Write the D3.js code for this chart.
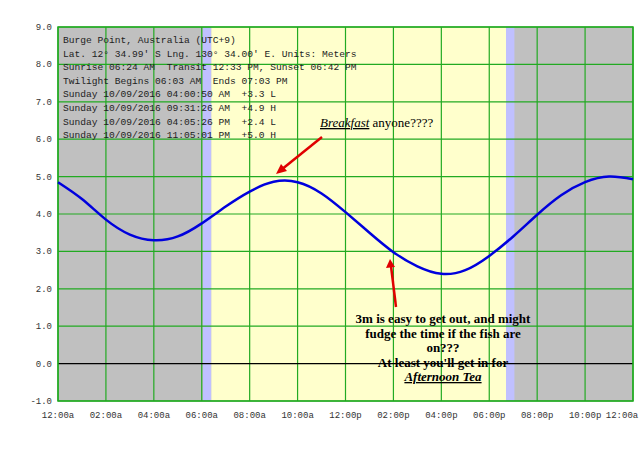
<!DOCTYPE html>
<html><head><meta charset="utf-8">
<script src="https://cdn.jsdelivr.net/npm/d3@7"></script>
<style>body{margin:0;background:#fff}</style>
</head><body><div id="chart"></div>
<script>
// tide heights (m), hours since midnight
const hours = [0,1,2,3,4,5,6,7,8,9,10,11,12,13,14,15,16,17,18,19,20,21,22,23,24];
const heights = [4.85,4.4,3.85,3.45,3.3,3.4,3.75,4.2,4.6,4.86,4.85,4.55,4.05,3.5,2.98,2.6,2.4,2.5,2.88,3.4,3.98,4.5,4.85,5.0,4.93];
const tickLabels = ["12:00a","02:00a","04:00a","06:00a","08:00a","10:00a","12:00p","02:00p","04:00p","06:00p","08:00p","10:00p","12:00a"];
const yTicks = [-1,0,1,2,3,4,5,6,7,8,9];
// twilight / daylight bands, hours
const twilightAm = [6.05, 6.4], daylight = [6.4, 18.7], twilightPm = [18.7, 19.05];
const infoLines = [
  "Burge Point, Australia (UTC+9)",
  "Lat. 12\u00b0 34.99' S Lng. 130\u00b0 34.00' E. Units: Meters",
  "Sunrise 06:24 AM  Transit 12:33 PM, Sunset 06:42 PM",
  "Twilight Begins 06:03 AM  Ends 07:03 PM",
  "Sunday 10/09/2016 04:00:50 AM  +3.3 L",
  "Sunday 10/09/2016 09:31:26 AM  +4.9 H",
  "Sunday 10/09/2016 04:05:26 PM  +2.4 L",
  "Sunday 10/09/2016 11:05:01 PM  +5.0 H"];
const noteLines = ["3m is easy to get out, and might","fudge the time if the fish are","on???","At least you'll get in for"];

const width = 640, height = 452;
const margin = {left: 58, right: 7, top: 27, bottom: 51};

const svg = d3.select("#chart").append("svg")
  .attr("width", width).attr("height", height);

const x = d3.scaleLinear().domain([0, 24]).range([margin.left, width - margin.right]);
const y = d3.scaleLinear().domain([-1, 9]).range([height - margin.bottom, margin.top]);

// background bands
svg.append("rect").attr("x", x(0)).attr("y", y(9)).attr("width", x(24) - x(0))
  .attr("height", y(-1) - y(9)).attr("fill", "#c0c0c0");
[[twilightAm, "#c0c0ff"], [daylight, "#ffffcc"], [twilightPm, "#c0c0ff"]].forEach(([b, c]) => {
  svg.append("rect").attr("x", x(b[0])).attr("y", y(9)).attr("width", x(b[1]) - x(b[0]))
    .attr("height", y(-1) - y(9)).attr("fill", c);
});

// grid
svg.append("g").selectAll("line").data(d3.range(0, 25, 2)).join("line")
  .attr("x1", d => x(d)).attr("x2", d => x(d)).attr("y1", y(9)).attr("y2", y(-1))
  .attr("stroke", "#22aa22").attr("stroke-width", 1.2);
svg.append("g").selectAll("line").data(yTicks).join("line")
  .attr("x1", x(0)).attr("x2", x(24)).attr("y1", d => y(d)).attr("y2", d => y(d))
  .attr("stroke", d => d === 0 ? "#000" : "#22aa22").attr("stroke-width", 1.2);
svg.append("rect").attr("x", x(0)).attr("y", y(9)).attr("width", x(24) - x(0))
  .attr("height", y(-1) - y(9)).attr("fill", "none").attr("stroke", "#22aa22").attr("stroke-width", 1.5);

// axis labels
svg.append("g").selectAll("text").data(yTicks).join("text")
  .attr("x", x(0) - 6).attr("y", d => y(d) + 3).attr("text-anchor", "end")
  .attr("font-family", "Liberation Mono, monospace").attr("font-size", 9).attr("fill", "#333")
  .text(d => d.toFixed(1));
svg.append("g").selectAll("text").data(tickLabels).join("text")
  .attr("x", (d, i) => Math.min(x(i * 2), width - 18)).attr("y", y(-1) + 17).attr("text-anchor", "middle")
  .attr("font-family", "Liberation Mono, monospace").attr("font-size", 9).attr("fill", "#333")
  .text(d => d);

// tide curve
svg.append("path").datum(hours.map((h, i) => [h, heights[i]]))
  .attr("d", d3.line().x(d => x(d[0])).y(d => y(d[1])).curve(d3.curveNatural))
  .attr("fill", "none").attr("stroke", "#0000dd").attr("stroke-width", 2.5);

// info text
svg.append("g").selectAll("text").data(infoLines).join("text")
  .attr("x", 63).attr("y", (d, i) => 43 + i * 13.6)
  .attr("font-family", "Liberation Mono, monospace").attr("font-size", 9.6).attr("fill", "#222")
  .attr("xml:space", "preserve").text(d => d);

// annotations
const serif = "Liberation Serif, serif";
const bt = svg.append("text").attr("x", 320).attr("y", 127).attr("font-family", serif)
  .attr("font-size", 13).attr("fill", "#000");
bt.append("tspan").attr("font-style", "italic").attr("text-decoration", "underline").text("Breakfast");
bt.append("tspan").text(" anyone????");
svg.append("line").attr("x1", 322).attr("y1", 137).attr("x2", 281).attr("y2", 170)
  .attr("stroke", "#e00000").attr("stroke-width", 2.5);
svg.append("path").attr("d", "M276,174 L281,164 L287,171 Z").attr("fill", "#e00000");

svg.append("line").attr("x1", 396).attr("y1", 307).attr("x2", 391).attr("y2", 266)
  .attr("stroke", "#e00000").attr("stroke-width", 2.5);
svg.append("path").attr("d", "M390,259 L386,268 L395,267 Z").attr("fill", "#e00000");

svg.append("g").selectAll("text").data(noteLines).join("text")
  .attr("x", 443).attr("y", (d, i) => 323 + i * 14.5).attr("text-anchor", "middle")
  .attr("font-family", serif).attr("font-size", 13).attr("font-weight", "bold").attr("fill", "#000")
  .text(d => d);
svg.append("text").attr("x", 443).attr("y", 381).attr("text-anchor", "middle")
  .attr("font-family", serif).attr("font-size", 13).attr("font-weight", "bold")
  .attr("font-style", "italic").attr("text-decoration", "underline").text("Afternoon Tea");
</script></body></html>
